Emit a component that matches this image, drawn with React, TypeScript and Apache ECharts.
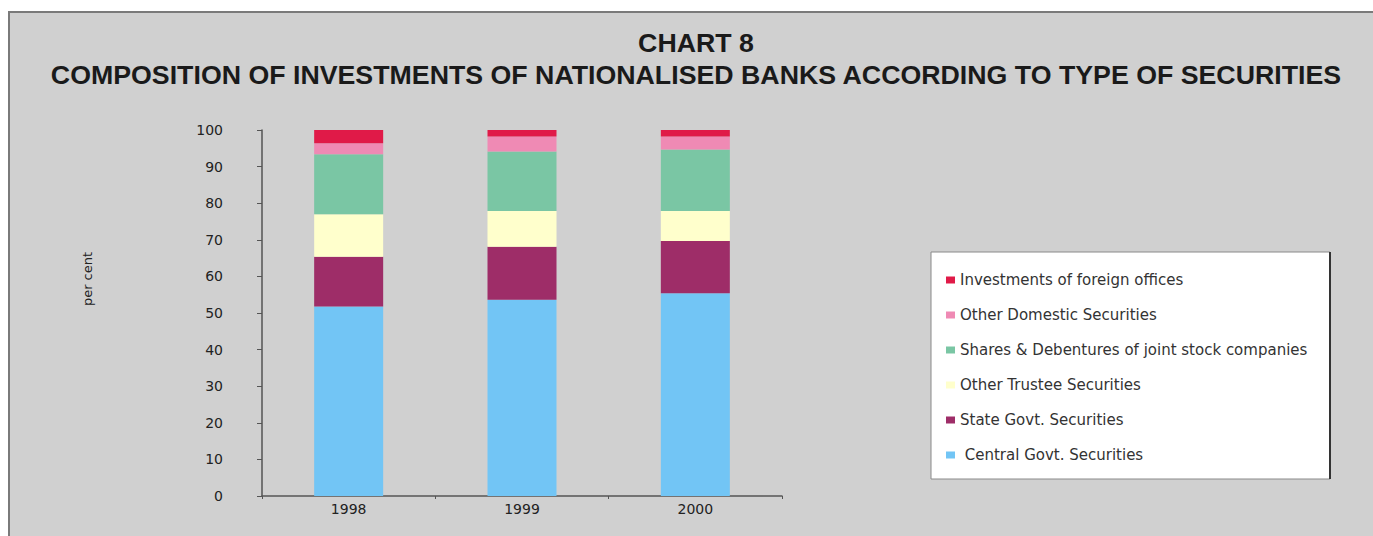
import React, { useEffect, useRef } from "react";
import * as echarts from "echarts";

const years = ["1998", "1999", "2000"];
const centralGovt = [51.8, 53.6, 55.4];
const stateGovt = [13.6, 14.5, 14.3];
const otherTrustee = [11.6, 9.8, 8.2];
const sharesDebentures = [16.4, 16.2, 16.8];
const otherDomestic = [3.0, 4.1, 3.5];
const foreignOffices = [3.6, 1.8, 1.8];

const seriesNames = [
  " Central Govt. Securities",
  "State Govt. Securities",
  "Other Trustee Securities",
  "Shares & Debentures of joint stock companies",
  "Other Domestic Securities",
  "Investments of foreign offices",
];
const seriesData = [centralGovt, stateGovt, otherTrustee, sharesDebentures, otherDomestic, foreignOffices];
const seriesColors = ["#72c5f5", "#9e2d68", "#ffffcc", "#7ac6a4", "#ef8ab4", "#e01a48"];

const titleLine1 = "CHART 8";
const titleLine2 = "COMPOSITION OF INVESTMENTS OF NATIONALISED BANKS ACCORDING TO TYPE OF SECURITIES";
const yAxisTitle = "per cent";

export default function App() {
  const ref = useRef<HTMLDivElement>(null);
  useEffect(() => {
    if (!ref.current) return;
    const chart = echarts.init(ref.current, null, { renderer: "svg" });
    const font = "'Liberation Sans', Arial, sans-serif";
    const wide = "'DejaVu Sans', sans-serif";
    chart.setOption({
      animation: false,
      backgroundColor: "#ffffff",
      graphic: [
        {
          type: "rect",
          z: -10,
          shape: { x: 9, y: 12, width: 1400, height: 600 },
          style: { fill: "#d0d0d0", stroke: "#7a7a7a", lineWidth: 2 },
        },
        {
          type: "rect",
          z: 1,
          shape: { x: 931, y: 252, width: 399, height: 227 },
          style: { fill: "#ffffff", stroke: "#8a8a8a", lineWidth: 1 },
        },
        {
          type: "line",
          z: 2,
          shape: { x1: 1330, y1: 252, x2: 1330, y2: 479 },
          style: { stroke: "#333333", lineWidth: 2 },
        },
        {
          type: "text",
          z: 5,
          x: 696,
          y: 43,
          scaleX: 1.07,
          style: {
            text: titleLine1,
            fontFamily: font,
            fontWeight: "bold",
            fontSize: 25,
            fill: "#1a1a1a",
            textAlign: "center",
            textVerticalAlign: "middle",
          },
        },
        {
          type: "text",
          z: 5,
          x: 696,
          y: 75,
          scaleX: 1.07,
          style: {
            text: titleLine2,
            fontFamily: font,
            fontWeight: "bold",
            fontSize: 25,
            fill: "#1a1a1a",
            textAlign: "center",
            textVerticalAlign: "middle",
          },
        },
        {
          type: "text",
          z: 5,
          x: 87,
          y: 279,
          rotation: Math.PI / 2,
          style: {
            text: yAxisTitle,
            fontFamily: wide,
            fontSize: 13,
            fill: "#222222",
            textAlign: "center",
            textVerticalAlign: "middle",
          },
        },
      ],
      legend: {
        orient: "vertical",
        left: 941,
        top: 267,
        itemWidth: 9,
        itemHeight: 7,
        itemGap: 19,
        icon: "rect",
        data: seriesNames.slice().reverse(),
        textStyle: { fontFamily: wide, fontSize: 15, color: "#333333", lineHeight: 16 },
        z: 10,
      },
      grid: { left: 262, top: 130, width: 520, height: 366, containLabel: false },
      xAxis: {
        type: "category",
        data: years,
        axisLine: { lineStyle: { color: "#555555", width: 1.5 } },
        axisTick: { show: true, length: 3, lineStyle: { color: "#555555" } },
        axisLabel: { fontFamily: wide, fontSize: 14, color: "#222222", margin: 6 },
      },
      yAxis: {
        type: "value",
        min: 0,
        max: 100,
        interval: 10,
        axisLine: { show: true, lineStyle: { color: "#555555", width: 1.5 } },
        axisTick: { show: true, length: 5, lineStyle: { color: "#555555" } },
        splitLine: { show: false },
        axisLabel: { fontFamily: wide, fontSize: 14, color: "#222222", margin: 39 },
      },
      series: seriesNames.map((name, i) => ({
        name,
        type: "bar",
        stack: "total",
        barWidth: 69,
        data: seriesData[i],
        itemStyle: { color: seriesColors[i] },
      })),
    });
    return () => chart.dispose();
  }, []);
  return (
    <div
      ref={ref}
      style={{ position: "absolute", left: 0, top: 0, width: 1373, height: 536 }}
    />
  );
}
